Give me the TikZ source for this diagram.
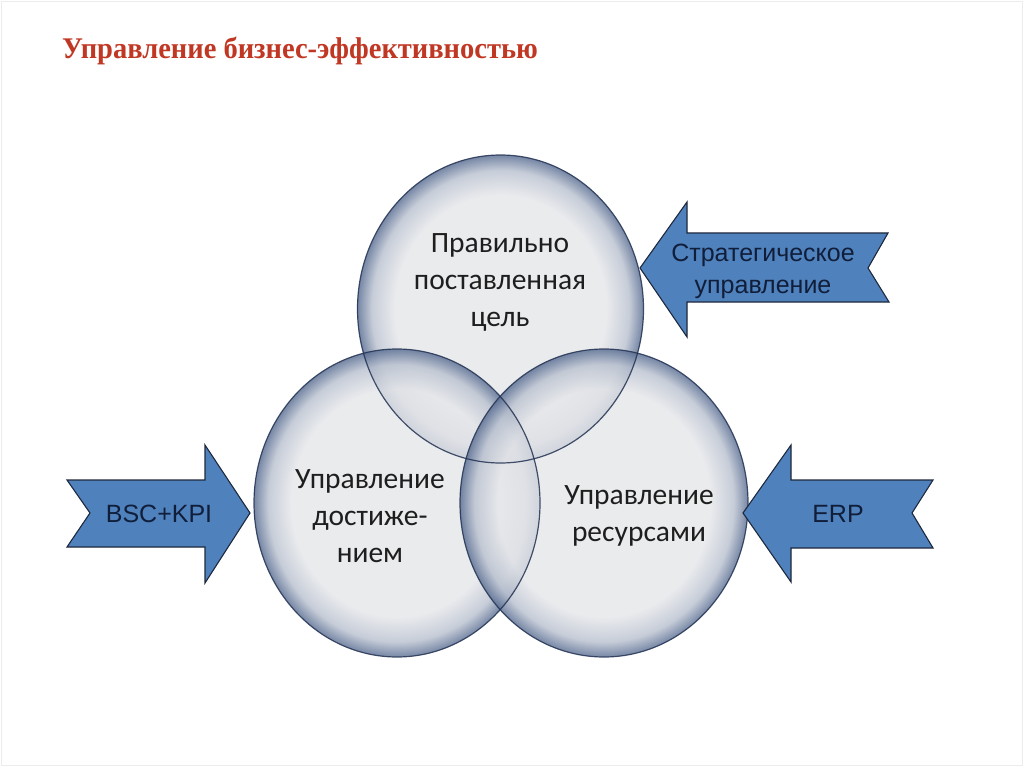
\documentclass[tikz,border=0pt]{standalone}
\usepackage{fontspec}
\setmainfont{Liberation Serif}
\newfontfamily\calibfont{Carlito}
\newfontfamily\arialfont{Liberation Sans}
\definecolor{cfill}{RGB}{229,230,233}
\definecolor{cmid}{RGB}{186,194,208}
\definecolor{cedge}{RGB}{88,108,145}
\definecolor{cline}{RGB}{35,50,82}
\definecolor{ablue}{RGB}{79,129,189}
\definecolor{aline}{RGB}{30,40,60}
\definecolor{atext}{RGB}{16,30,58}
\definecolor{ctext}{RGB}{30,30,30}
\definecolor{titlered}{RGB}{192,56,36}
\definecolor{framegray}{RGB}{236,236,236}
\pgfdeclareradialshading{bubble}{\pgfpoint{0bp}{0bp}}{color(0bp)=(cfill); color(18.5bp)=(cfill); color(22.5bp)=(cmid); color(25bp)=(cedge); color(50bp)=(cedge)}
\begin{document}
\begin{tikzpicture}[x=1pt,y=-1pt,
  bubblefill/.style={shading=bubble, fill opacity=0.82},
  bubbleline/.style={draw=cline, line width=1.2pt, draw opacity=0.85},
  arrowshape/.style={fill=ablue, draw=aline, line width=1.1pt, line join=miter},
  circtext/.style={font=\calibfont\fontsize{29.5}{37}\selectfont, text=ctext, align=center, inner sep=0pt},
  arrtext/.style={font=\arialfont\fontsize{25}{32}\selectfont, text=atext, align=center, inner sep=0pt}]
\useasboundingbox (0,0) rectangle (1024,767);
\draw[framegray] (1,1) rectangle (1022,765);
% title
\node[anchor=west, inner sep=0pt, text=titlered, xscale=0.95, font=\bfseries\fontsize{30}{34}\selectfont] (title) at (62,51) {Управление бизнес-эффективностью};
% circles
\coordinate (ctop) at (500.5,309);
\coordinate (cleft) at (397,503);
\coordinate (cright) at (604,503);
\shade[bubblefill] (ctop) ellipse [x radius=143, y radius=154];
\shade[bubblefill] (cleft) ellipse [x radius=143, y radius=154];
\shade[bubblefill] (cright) ellipse [x radius=144, y radius=154];
\draw[bubbleline] (ctop) ellipse [x radius=143, y radius=154];
\draw[bubbleline] (cleft) ellipse [x radius=143, y radius=154];
\draw[bubbleline] (cright) ellipse [x radius=144, y radius=154];
% circle texts
\node[circtext] (ttop) at (500,282) {Правильно\\поставленная\\цель};
\node[circtext] (tleft) at (370,516) {Управление\\достиже-\\нием};
\node[circtext] (tright) at (639,516) {Управление\\ресурсами};
% arrows
\draw[arrowshape] (640,268) -- (687,202) -- (687,233) -- (888,233) -- (868,268) -- (889,302) -- (687,302) -- (687,337) -- cycle;
\draw[arrowshape] (250,513) -- (205,445) -- (205,480) -- (67,480) -- (90,513) -- (67,547) -- (205,547) -- (205,583) -- cycle;
\draw[arrowshape] (743,513) -- (791,445) -- (791,480) -- (933,480) -- (912,513) -- (933,548) -- (791,548) -- (791,582) -- cycle;
\node[arrtext] (tstrat) at (763,271) {Стратегическое\\управление};
\node[arrtext] (tbsc) at (159,514) {BSC+KPI};
\node[arrtext] (terp) at (838,514) {ERP};
\end{tikzpicture}
\end{document}
